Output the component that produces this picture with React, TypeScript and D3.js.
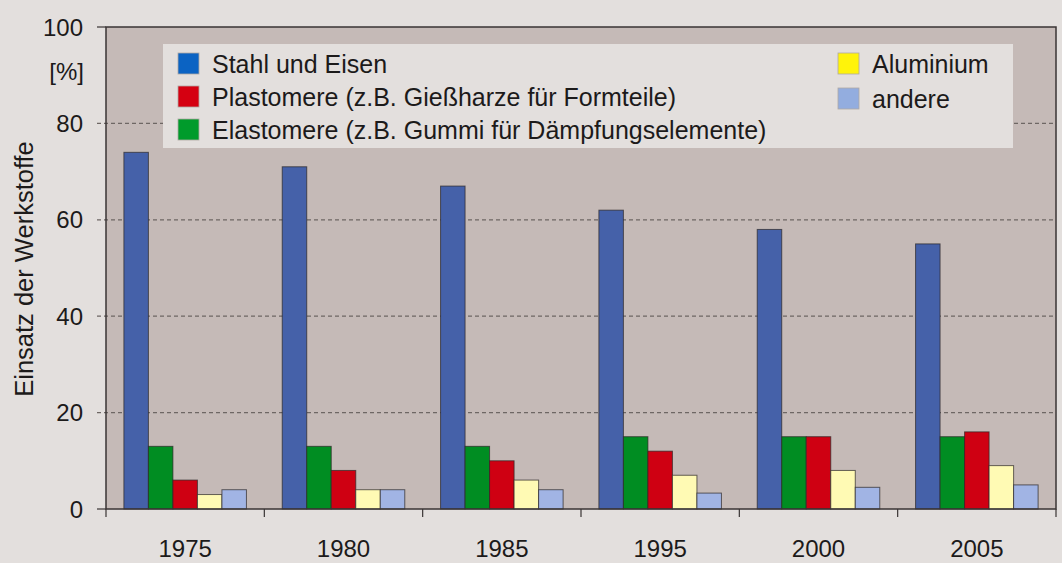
import { useEffect, useRef } from 'react';
import * as d3 from 'd3';

// ==========================================
// DATA
// ==========================================
const years = ['1975', '1980', '1985', '1995', '2000', '2005'];

const stahl = [74, 71, 67, 62, 58, 55];
const elastomere = [13, 13, 13, 15, 15, 15];
const plastomere = [6, 8, 10, 12, 15, 16];
const aluminium = [3, 4, 6, 7, 8, 9];
const andere = [4, 4, 4, 3.3, 4.5, 5];

const yTicks = [0, 20, 40, 60, 80, 100];

// bar order inside a group
const seriesKeys = ['stahl', 'elastomere', 'plastomere', 'aluminium', 'andere'];
const seriesValues = [stahl, elastomere, plastomere, aluminium, andere];
const barColors = ['#4561a9', '#008d22', '#cf0012', '#fffab4', '#a1b4e4'];

const legendLeft = [
    { label: 'Stahl und Eisen', color: '#0b63c3' },
    { label: 'Plastomere (z.B. Gießharze für Formteile)', color: '#d50011' },
    { label: 'Elastomere (z.B. Gummi für Dämpfungselemente)', color: '#009b2b' },
];
const legendRight = [
    { label: 'Aluminium', color: '#fff30a' },
    { label: 'andere', color: '#93addf' },
];

const App = () => {
    const svgRef = useRef<SVGSVGElement>(null);

    useEffect(() => {
        const width = 1062;
        const height = 563;
        const left = 106;
        const right = 1056;
        const top = 27;
        const bottom = 509;
        const font = 'Liberation Sans, Arial, sans-serif';
        const ink = '#1c1a1a';

        const root = d3.select(svgRef.current);
        root.selectAll('*').remove();
        root.attr('width', width).attr('height', height);

        // background
        root.append('rect')
            .attr('width', width)
            .attr('height', height)
            .attr('fill', '#e3dfdd');

        root.append('rect')
            .attr('x', left)
            .attr('y', top)
            .attr('width', right - left)
            .attr('height', bottom - top)
            .attr('fill', '#c5bab7');

        // ==========================================
        // SCALES
        // ==========================================
        const x0 = d3.scaleBand().domain(years).range([left, right]).paddingInner(0).paddingOuter(0);
        const x1 = d3.scaleBand()
            .domain(seriesKeys)
            .range([0, x0.bandwidth()])
            .paddingOuter(0.73)
            .paddingInner(0);
        const y = d3.scaleLinear().domain([0, 100]).range([bottom, top]);

        // grid
        root.append('g')
            .selectAll('line')
            .data(yTicks.filter((t) => t > 0 && t < 100))
            .enter()
            .append('line')
            .attr('x1', left - 9)
            .attr('x2', right)
            .attr('y1', (d) => y(d))
            .attr('y2', (d) => y(d))
            .attr('stroke', '#6e6764')
            .attr('stroke-width', 1.2)
            .attr('stroke-dasharray', '4,3');

        // ==========================================
        // BARS
        // ==========================================
        const groups = root.append('g')
            .selectAll('g')
            .data(years)
            .enter()
            .append('g')
            .attr('transform', (d) => `translate(${x0(d)},0)`);

        groups.selectAll('rect')
            .data((_, i) => seriesKeys.map((k, s) => ({ key: k, s, value: seriesValues[s][i] })))
            .enter()
            .append('rect')
            .attr('x', (d) => x1(d.key) as number)
            .attr('width', x1.bandwidth())
            .attr('y', (d) => y(d.value))
            .attr('height', (d) => bottom - y(d.value))
            .attr('fill', (d) => barColors[d.s])
            .attr('stroke', '#2b2626')
            .attr('stroke-opacity', 0.7)
            .attr('stroke-width', 1);

        // ==========================================
        // LEGEND
        // ==========================================
        root.append('rect')
            .attr('x', 163)
            .attr('y', 44)
            .attr('width', 850)
            .attr('height', 104)
            .attr('fill', '#e3dfdd');

        const drawLegend = (items: { label: string; color: string }[], lx: number, step: number) => {
            const g = root.append('g');
            items.forEach((it, i) => {
                const cy = 63.5 + i * step;
                g.append('rect')
                    .attr('x', lx)
                    .attr('y', cy - 10.5)
                    .attr('width', 21)
                    .attr('height', 21)
                    .attr('fill', it.color)
                    .attr('stroke', '#b0a8a4')
                    .attr('stroke-width', 0.8);
                g.append('text')
                    .attr('x', lx + 34)
                    .attr('y', cy + 9)
                    .text(it.label)
                    .style('font-family', font)
                    .style('font-size', '25px')
                    .style('fill', ink);
            });
        };
        drawLegend(legendLeft, 178, 33);
        drawLegend(legendRight, 838, 35);

        // ==========================================
        // AXES / FRAME
        // ==========================================
        root.append('rect')
            .attr('x', left)
            .attr('y', top)
            .attr('width', right - left)
            .attr('height', bottom - top)
            .attr('fill', 'none')
            .attr('stroke', '#3a3434')
            .attr('stroke-width', 1.5);

        root.append('g')
            .selectAll('line')
            .data([100, 0])
            .enter()
            .append('line')
            .attr('x1', left - 9)
            .attr('x2', left)
            .attr('y1', (d) => y(d))
            .attr('y2', (d) => y(d))
            .attr('stroke', '#3a3434')
            .attr('stroke-width', 1.2);

        const boundaries = years.map((yr) => x0(yr) as number).concat([right]);
        root.append('g')
            .selectAll('line')
            .data(boundaries)
            .enter()
            .append('line')
            .attr('x1', (d) => d)
            .attr('x2', (d) => d)
            .attr('y1', bottom)
            .attr('y2', bottom + 8)
            .attr('stroke', '#3a3434')
            .attr('stroke-width', 1.2);

        // tick labels
        root.append('g')
            .selectAll('text')
            .data(yTicks)
            .enter()
            .append('text')
            .attr('x', 83)
            .attr('y', (d) => y(d) + 8.5)
            .attr('text-anchor', 'end')
            .text((d) => d)
            .style('font-family', font)
            .style('font-size', '24px')
            .style('fill', ink);

        root.append('text')
            .attr('x', 84)
            .attr('y', 80)
            .attr('text-anchor', 'end')
            .text('[%]')
            .style('font-family', font)
            .style('font-size', '24px')
            .style('fill', ink);

        root.append('g')
            .selectAll('text')
            .data(years)
            .enter()
            .append('text')
            .attr('x', (d) => (x0(d) as number) + x0.bandwidth() / 2)
            .attr('y', 557)
            .attr('text-anchor', 'middle')
            .text((d) => d)
            .style('font-family', font)
            .style('font-size', '24px')
            .style('fill', ink);

        root.append('text')
            .attr('transform', `translate(33, 269) rotate(-90)`)
            .attr('text-anchor', 'middle')
            .text('Einsatz der Werkstoffe')
            .style('font-family', font)
            .style('font-size', '25.5px')
            .style('fill', ink);
    }, []);

    return (
        <svg
            ref={svgRef}
            style={{ position: 'absolute', left: 0, top: 0, display: 'block' }}
        ></svg>
    );
};

export default App;
